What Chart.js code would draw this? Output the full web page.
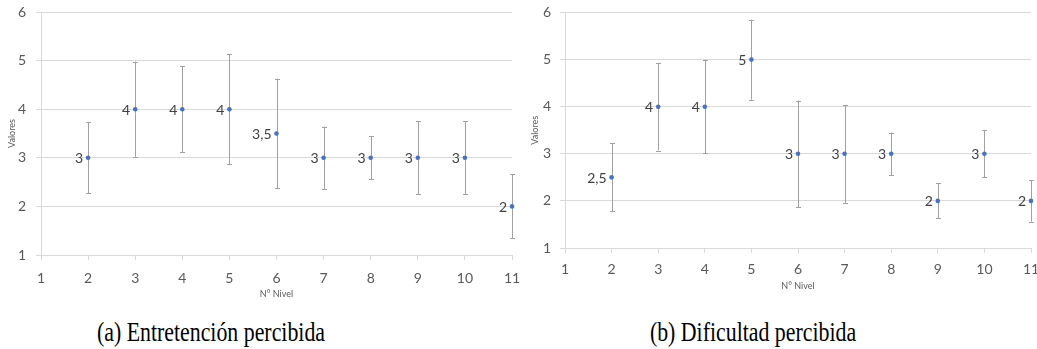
<!DOCTYPE html>
<html>
<head>
<meta charset="utf-8">
<script src="https://cdn.jsdelivr.net/npm/chart.js@4/dist/chart.umd.min.js"></script>
<style>
  html, body { margin: 0; padding: 0; background: #fff; width: 1037px; height: 349px; overflow: hidden; position: relative; }
  .wrap { position: absolute; top: 0; }
  .cap { position: absolute; font-family: "Liberation Serif", "DejaVu Serif", serif; font-size: 28px; line-height: 28px; color: #000; white-space: nowrap; transform: translateX(-50%) scaleX(0.78); transform-origin: 50% 50%; }
</style>
</head>
<body>
<div class="wrap" id="wa" style="left:0px;width:520px;height:305px;"><canvas id="ca"></canvas></div>
<div class="wrap" id="wb" style="left:520px;width:527px;height:300px;"><canvas id="cb"></canvas></div>
<div class="cap" id="capA" style="left:211px;top:318px;">(a) Entretención percibida</div>
<div class="cap" id="capB" style="left:753px;top:318px;">(b) Dificultad percibida</div>
<script>
// ---- Data ----
const levels = [2, 3, 4, 5, 6, 7, 8, 9, 10, 11];
const entretencionValues = [3, 4, 4, 4, 3.5, 3, 3, 3, 3, 2];
const entretencionError = [0.73, 0.98, 0.88, 1.13, 1.13, 0.64, 0.44, 0.75, 0.75, 0.66];
const dificultadValues = [2.5, 4, 4, 5, 3, 3, 3, 2, 3, 2];
const dificultadError = [0.72, 0.93, 0.99, 0.85, 1.13, 1.04, 0.45, 0.37, 0.5, 0.44];
const xTicks = [1, 2, 3, 4, 5, 6, 7, 8, 9, 10, 11];
const yTicks = [1, 2, 3, 4, 5, 6];
const xTitle = 'N° Nivel';
const yTitle = 'Valores';

const fmt = v => String(v).replace('.', ',');

const errorBarPlugin = {
  id: 'errorBars',
  beforeDatasetsDraw(chart) {
    const ctx = chart.ctx;
    const ys = chart.scales.y;
    const ds = chart.data.datasets[0];
    const meta = chart.getDatasetMeta(0);
    ctx.save();
    ctx.strokeStyle = '#a0a0a0';
    ctx.lineWidth = 1;
    meta.data.forEach((pt, i) => {
      const v = ds.data[i].y;
      const e = ds.errors[i];
      const x = Math.round(pt.x) + 0.5;
      const yTop = ys.getPixelForValue(v + e);
      const yBot = ys.getPixelForValue(v - e);
      ctx.beginPath();
      ctx.moveTo(x, yTop);
      ctx.lineTo(x, yBot);
      ctx.moveTo(x - 2.5, Math.round(yTop) + 0.5);
      ctx.lineTo(x + 2.5, Math.round(yTop) + 0.5);
      ctx.moveTo(x - 2.5, Math.round(yBot) + 0.5);
      ctx.lineTo(x + 2.5, Math.round(yBot) + 0.5);
      ctx.stroke();
    });
    ctx.restore();
  },
  afterDatasetsDraw(chart) {
    const ctx = chart.ctx;
    const ds = chart.data.datasets[0];
    const meta = chart.getDatasetMeta(0);
    ctx.save();
    ctx.font = '14px Lato, "Open Sans", sans-serif';
    ctx.fillStyle = '#404040';
    ctx.textAlign = 'right';
    ctx.textBaseline = 'middle';
    meta.data.forEach((pt, i) => {
      ctx.fillText(fmt(ds.data[i].y), pt.x - 5, pt.y + 1);
    });
    ctx.restore();
  }
};

function makeChart(id, values, errors, cfg) {
  const pts = levels.map((l, i) => ({ x: l, y: values[i] }));
  return new Chart(document.getElementById(id), {
    type: 'scatter',
    data: {
      datasets: [{
        data: pts,
        errors: errors,
        backgroundColor: '#4472c4',
        borderWidth: 0,
        pointRadius: 2.3,
        pointHoverRadius: 2.3,
        clip: false
      }]
    },
    options: {
      responsive: true,
      maintainAspectRatio: false,
      animation: false,
      events: [],
      layout: { padding: { top: cfg.padTop, right: cfg.padRight, left: 0, bottom: 0 } },
      plugins: { legend: { display: false }, tooltip: { enabled: false } },
      scales: {
        x: {
          type: 'linear',
          min: xTicks[0],
          max: xTicks[xTicks.length - 1],
          afterBuildTicks: s => { s.ticks = xTicks.map(v => ({ value: v })); },
          afterFit: s => { s.height = cfg.xHeight; s.paddingLeft = 0; s.paddingRight = 0; },
          grid: { drawOnChartArea: false, drawTicks: true, tickLength: 5, color: '#d9d9d9' },
          border: { display: true, color: '#d9d9d9' },
          ticks: { color: '#595959', font: { family: 'Lato', size: 14 }, padding: cfg.xTickPad, maxRotation: 0 },
          title: { display: true, text: xTitle, color: '#595959', font: { family: 'Lato', size: 9 }, padding: { top: 0, bottom: cfg.xTitlePad } }
        },
        y: {
          type: 'linear',
          min: yTicks[0],
          max: yTicks[yTicks.length - 1],
          afterBuildTicks: s => { s.ticks = yTicks.map(v => ({ value: v })); },
          afterFit: s => { s.width = cfg.yWidth; s.paddingTop = 0; s.paddingBottom = 0; },
          grid: { drawOnChartArea: true, drawTicks: true, tickLength: 5, color: '#d9d9d9' },
          border: { display: true, color: '#d9d9d9' },
          ticks: { color: '#595959', font: { family: 'Lato', size: 14 }, padding: cfg.yTickPad },
          title: { display: true, text: yTitle, color: '#595959', font: { family: 'Lato', size: 9 }, padding: { top: cfg.yTitlePad, bottom: 0 } }
        }
      }
    },
    plugins: [errorBarPlugin]
  });
}

makeChart('ca', entretencionValues, entretencionError, {
  padTop: 12, padRight: 8, xHeight: 50, yWidth: 41, xTickPad: 10, xTitlePad: 5.5, yTickPad: 10, yTitlePad: 6.5
});
makeChart('cb', dificultadValues, dificultadError, {
  padTop: 12.5, padRight: 16, xHeight: 52, yWidth: 45, xTickPad: 8, xTitlePad: 8.5, yTickPad: 9, yTitlePad: 9.5
});
</script>
</body>
</html>
